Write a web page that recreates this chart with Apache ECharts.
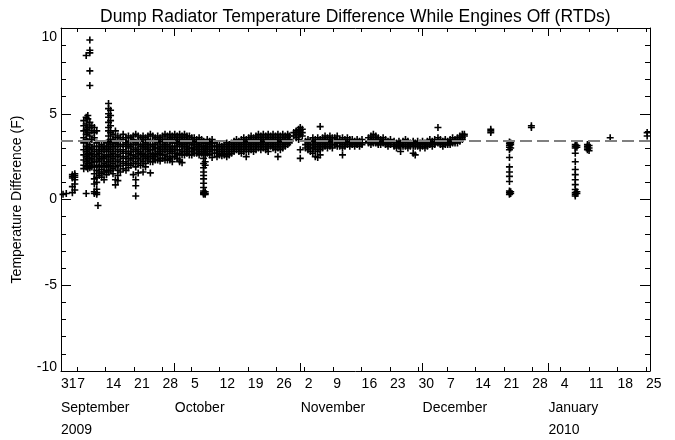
<!DOCTYPE html>
<html lang="en">
<head>
<meta charset="UTF-8">
<title>Dump Radiator Temperature Difference</title>
<script src="https://cdn.jsdelivr.net/npm/echarts@6/dist/echarts.min.js"></script>
</head>
<body style="margin:0">
<div id="main" style="width:675px;height:440px;"></div>
<script type="text/javascript">
// x = days counted from 31 Aug 2009 (Sep 1 = 1, Oct 1 = 31, Nov 1 = 62, Dec 1 = 92, Jan 1 = 123)
// each row: [day, value, value, ...]
var sepRows = [
    [3.5, 0.3],
    [4.3, 0.35],
    [5.8, 1.45, 1.35, 1.25, 0.75, 0.4],
    [6.4, 1.5, 1.4, 1.3, 1.15, 0.9, 0.55],
    [8.6, 4.6, 4.3, 4.0, 3.6, 3.3, 2.9, 2.6, 2.3, 2.0, 1.8],
    [9.2, 8.4, 4.8, 4.4, 4.1, 3.8, 3.5, 3.1, 2.8, 2.5, 2.2, 1.9, 0.35],
    [9.6, 4.9, 4.7, 4.2, 3.9, 3.4, 3.0, 2.7, 2.4, 2.1, 1.8],
    [10.1, 9.3, 8.7, 8.55, 7.5, 6.65, 4.5, 4.2, 3.7, 3.2, 2.9, 2.6, 2.3, 2.0, 1.85],
    [10.6, 4.3, 4.0, 3.5, 3.0, 2.7, 2.4, 2.15, 1.9],
    [11.2, 4.2, 3.9, 3.6, 3.1, 2.8, 2.5, 2.2, 1.9, 1.5, 1.2, 0.9, 0.45, 0.35],
    [11.8, 4.0, 3.3, 2.9, 2.6, 2.3, 2.0, 1.7, 1.3, 1.0, 0.6, 0.4, 0.3],
    [12.1, -0.35],
    [12.4, 3.1, 2.9, 2.7, 2.4, 2.2, 1.9, 1.6, 1.4],
    [13.0, 3.2, 3.0, 2.8, 2.5, 2.3, 2.0, 1.75, 1.5, 1.3],
    [13.6, 3.1, 2.9, 2.6, 2.4, 2.1, 1.9, 1.6, 1.15],
    [14.2, 3.3, 3.0, 2.8, 2.5, 2.2, 2.0, 1.7, 1.45],
    [14.7, 5.6, 5.3, 5.0, 4.8, 4.5, 4.2, 4.0, 3.7, 3.4, 3.1, 2.8, 2.5, 2.2, 1.9, 1.6],
    [15.2, 5.2, 4.9, 4.6, 4.3, 3.9, 3.5, 3.2, 2.9, 2.6, 2.3, 2.0, 1.7],
    [15.8, 3.8, 3.5, 3.3, 3.0, 2.7, 2.4, 2.1, 1.8, 1.5],
    [16.4, 4.0, 3.6, 3.3, 3.1, 2.8, 2.5, 2.2, 1.9, 1.15, 0.85],
    [17.0, 3.7, 3.4, 3.2, 2.9, 2.6, 2.3, 2.0, 1.7, 1.4, 1.1],
    [17.6, 3.6, 3.4, 3.1, 2.8, 2.5, 2.2, 1.95, 1.6],
    [18.3, 3.8, 3.5, 3.2, 2.9, 2.7, 2.4, 2.1, 1.8],
    [19.0, 3.6, 3.3, 3.1, 2.8, 2.5, 2.2, 2.0, 1.7],
    [19.6, 3.7, 3.4, 3.2, 3.0, 2.7, 2.4, 2.1, 1.85],
    [20.2, 3.6, 3.4, 3.1, 2.8, 2.6, 2.3, 2.0],
    [20.8, 3.7, 3.5, 3.2, 2.9, 2.6, 2.4, 2.1, 1.45],
    [21.4, 3.8, 3.3, 3.0, 2.8, 2.5, 2.2, 1.9, 1.15, 0.8, 0.2],
    [22.0, 3.7, 3.4, 3.2, 2.9, 2.7, 2.4, 2.1, 1.55],
    [22.6, 3.6, 3.4, 3.1, 2.8, 2.6, 2.3, 2.0],
    [23.2, 3.7, 3.5, 3.2, 3.0, 2.7, 2.5, 2.2, 1.6],
    [23.8, 3.6, 3.3, 3.1, 2.9, 2.6, 2.4, 2.1, 1.9],
    [24.4, 3.7, 3.5, 3.2, 3.0, 2.8, 2.5, 2.3],
    [25.0, 3.8, 3.4, 3.2, 2.9, 2.7, 2.5, 2.2, 1.55],
    [25.6, 3.7, 3.4, 3.1, 2.9, 2.6, 2.4, 2.2],
    [26.2, 3.6, 3.4, 3.2, 3.0, 2.7, 2.5, 2.3],
    [26.8, 3.7, 3.5, 3.3, 3.0, 2.8, 2.6, 2.3],
    [27.4, 3.6, 3.4, 3.1, 2.9, 2.7, 2.4, 2.25],
    [28.0, 3.7, 3.5, 3.2, 3.0, 2.8, 2.6, 2.4],
    [28.6, 3.8, 3.5, 3.3, 3.1, 2.9, 2.6, 2.3],
    [29.2, 3.7, 3.5, 3.2, 3.0, 2.8, 2.5, 2.3],
    [29.8, 3.8, 3.6, 3.4, 3.1, 2.9, 2.7, 2.4, 2.3]
];
var octRows = [
    [30.4, 3.7, 3.5, 3.3, 3.0, 2.8, 2.5, 2.2],
    [31.0, 3.8, 3.6, 3.3, 3.1, 2.9, 2.7, 2.5],
    [31.6, 3.7, 3.5, 3.3, 3.1, 2.9, 2.6, 2.4],
    [32.2, 3.8, 3.6, 3.4, 3.2, 2.9, 2.7, 2.3, 2.2],
    [32.8, 3.7, 3.5, 3.3, 3.1, 2.8, 2.6, 2.15],
    [33.4, 3.8, 3.6, 3.4, 3.2, 3.0, 2.8, 2.6],
    [34.0, 3.7, 3.5, 3.3, 3.1, 2.9, 2.7],
    [34.6, 3.7, 3.5, 3.3, 3.0, 2.8, 2.6],
    [35.2, 3.6, 3.4, 3.2, 3.0, 2.8, 2.6],
    [35.8, 3.6, 3.4, 3.2, 3.0, 2.9, 2.7],
    [36.4, 3.5, 3.3, 3.1, 2.9, 2.7],
    [37.0, 3.6, 3.4, 3.2, 3.0, 2.8, 2.6],
    [37.6, 3.5, 3.3, 3.1, 2.9, 2.7],
    [38.1, 3.4, 3.1, 2.7, 2.4, 2.1, 1.85, 1.6, 1.4, 1.2, 0.95, 0.7, 0.5, 0.4, 0.35, 0.3],
    [38.5, 3.3, 3.0, 2.8, 2.6, 2.2, 2.0, 0.45, 0.35, 0.3],
    [39.0, 3.5, 3.3, 3.1, 2.9, 2.7],
    [39.6, 3.4, 3.2, 3.0, 2.8, 2.6],
    [40.2, 3.5, 3.3, 3.1, 2.9, 2.45],
    [40.8, 3.3, 3.1, 2.9, 2.7],
    [41.4, 3.1, 2.9, 2.7, 2.5],
    [42.0, 3.2, 3.0, 2.8, 2.6],
    [42.6, 3.1, 2.9, 2.7, 2.55],
    [43.2, 3.2, 3.0, 2.8, 2.6],
    [43.8, 3.3, 3.1, 2.9, 2.7, 2.5],
    [44.4, 3.2, 3.0, 2.8, 2.6],
    [45.0, 3.3, 3.1, 2.9, 2.7],
    [45.6, 3.4, 3.2, 3.0, 2.8],
    [46.2, 3.5, 3.3, 3.1, 2.9],
    [46.8, 3.4, 3.2, 3.0, 2.8],
    [47.4, 3.5, 3.3, 3.1, 2.9, 2.7],
    [48.0, 3.6, 3.4, 3.2, 3.0, 2.8],
    [48.6, 3.5, 3.3, 3.1, 2.9, 2.5],
    [49.2, 3.6, 3.4, 3.2, 3.0, 2.8],
    [49.8, 3.7, 3.5, 3.3, 3.1, 2.9],
    [50.4, 3.6, 3.4, 3.2, 3.0, 2.8],
    [51.0, 3.7, 3.5, 3.3, 3.1, 2.9],
    [51.6, 3.8, 3.6, 3.4, 3.2, 3.0],
    [52.2, 3.7, 3.5, 3.3, 3.1, 2.9],
    [52.8, 3.8, 3.6, 3.4, 3.2, 3.0],
    [53.4, 3.7, 3.5, 3.3, 3.1, 2.9],
    [54.0, 3.8, 3.6, 3.4, 3.2, 3.0, 2.8],
    [54.6, 3.7, 3.5, 3.3, 3.1],
    [55.2, 3.8, 3.6, 3.4, 3.2, 3.0],
    [55.8, 3.7, 3.5, 3.3, 3.1, 2.9],
    [56.4, 3.8, 3.6, 3.4, 3.2, 3.0, 2.5],
    [57.0, 3.7, 3.5, 3.3, 3.1, 2.9],
    [57.6, 3.8, 3.6, 3.4, 3.2, 3.0],
    [58.2, 3.7, 3.5, 3.3, 3.1],
    [58.8, 3.8, 3.6, 3.4, 3.2],
    [59.2, 3.7, 3.5, 3.3],
    [60.3, 3.7, 3.9],
    [60.9, 4.0, 3.8, 3.6],
    [61.5, 4.1, 3.9, 3.7, 3.5]
];
var novRows = [
    [61.9, 4.2, 4.0, 3.8, 2.9, 2.4],
    [62.4, 4.1, 3.9, 3.7],
    [63.2, 3.4, 3.2, 3.0],
    [63.8, 3.5, 3.3, 3.1, 2.9],
    [64.4, 3.4, 3.2, 3.0, 2.8],
    [65.0, 3.6, 3.4, 3.2, 3.0, 2.7],
    [65.6, 3.5, 3.3, 3.1, 2.9, 2.5],
    [66.2, 3.6, 3.4, 3.2, 3.0, 2.8, 2.45],
    [66.8, 4.25, 3.5, 3.3, 3.1, 2.9, 2.6],
    [67.4, 3.6, 3.4, 3.2, 3.0],
    [68.0, 3.7, 3.5, 3.3, 3.1],
    [68.6, 3.6, 3.4, 3.2, 3.0],
    [69.2, 3.7, 3.5, 3.3, 3.1],
    [69.8, 3.6, 3.4, 3.2, 3.0],
    [70.4, 3.6, 3.4, 3.2],
    [71.0, 3.7, 3.5, 3.3, 3.1],
    [71.6, 3.5, 3.3, 3.1],
    [72.3, 3.6, 3.4, 3.2, 3.0, 2.6],
    [72.9, 3.5, 3.3, 3.1],
    [73.5, 3.6, 3.4, 3.2],
    [74.1, 3.5, 3.3, 3.1],
    [74.7, 3.5, 3.3, 3.2],
    [75.3, 3.4, 3.3, 3.1],
    [75.9, 3.5, 3.3, 3.2],
    [76.5, 3.4, 3.3, 3.1],
    [77.1, 3.5, 3.3, 3.2],
    [78.7, 3.6, 3.4, 3.3],
    [79.3, 3.7, 3.5, 3.4, 3.2],
    [79.9, 3.8, 3.6, 3.4, 3.3],
    [80.5, 3.7, 3.5, 3.3],
    [81.1, 3.6, 3.5, 3.3, 3.2],
    [81.7, 3.5, 3.4, 3.2],
    [82.3, 3.6, 3.4, 3.3],
    [82.9, 3.5, 3.3, 3.2],
    [83.5, 3.4, 3.3, 3.1],
    [84.1, 3.5, 3.3, 3.2],
    [85.0, 3.4, 3.2, 3.1],
    [85.6, 3.3, 3.2, 3.0],
    [86.2, 3.4, 3.2, 3.1],
    [86.6, 3.3, 3.1, 2.8],
    [87.2, 3.4, 3.2, 3.1],
    [87.8, 3.5, 3.3, 3.1],
    [88.4, 3.4, 3.2, 3.0],
    [89.0, 3.3, 3.2, 3.1],
    [89.7, 3.4, 3.3, 3.1, 2.7],
    [90.2, 3.3, 3.1, 2.6],
    [90.8, 3.4, 3.2, 3.1],
    [91.4, 3.3, 3.2, 3.0]
];
var decRows = [
    [92.0, 3.4, 3.3, 3.1],
    [92.6, 3.3, 3.2, 3.0],
    [93.2, 3.4, 3.2, 3.1],
    [93.8, 3.5, 3.3, 3.2],
    [94.4, 3.4, 3.3, 3.1],
    [95.0, 3.5, 3.3, 3.2],
    [95.8, 4.2, 3.6, 3.4, 3.3],
    [96.4, 3.5, 3.3, 3.2],
    [97.0, 3.4, 3.3, 3.1],
    [97.6, 3.5, 3.4, 3.2],
    [98.2, 3.4, 3.3, 3.2],
    [98.8, 3.5, 3.3, 3.2],
    [99.4, 3.6, 3.4, 3.3],
    [100.0, 3.5, 3.4, 3.3],
    [100.6, 3.6, 3.5, 3.3],
    [101.2, 3.7, 3.5, 3.4],
    [101.8, 3.8, 3.6, 3.5],
    [102.3, 3.8, 3.7],
    [108.8, 4.1, 4.0, 3.9],
    [113.4, 3.35, 3.25, 3.15, 3.05, 2.9, 2.45, 1.9, 1.6, 1.35, 1.05, 0.5, 0.4, 0.3],
    [113.7, 3.3, 3.2, 3.0, 0.45, 0.35],
    [118.8, 4.3, 4.2]
];
var janRows = [
    [129.6, 3.2, 3.1, 3.0, 2.7, 2.2, 1.75, 1.45, 1.15, 0.87, 0.58, 0.4, 0.3, 0.2],
    [130.0, 3.15, 3.05, 0.45, 0.35],
    [132.6, 3.2, 3.1, 3.0, 2.9],
    [133.0, 3.15, 3.0, 2.85],
    [138.2, 3.6],
    [147.3, 3.9, 3.7]
];

var meanLevel = 3.45;

var weekTicks = [7, 14, 21, 28, 35, 42, 49, 56, 63, 70, 77, 84, 91, 98, 105, 112, 119, 126, 133, 140, 147];
var monthTicks = [31, 62, 92, 123];
var dayLabelPos = [3, 7, 14, 21, 28, 35, 42, 49, 56, 63, 70, 77, 84, 91, 98, 105, 112, 119, 126, 133, 140, 147];
var dayLabels = ['31', '7', '14', '21', '28', '5', '12', '19', '26', '2', '9', '16', '23', '30', '7', '14', '21', '28', '4', '11', '18', '25'];
var monthLabelPos = [3, 31, 62, 92, 123];
var monthLabels = ['September', 'October', 'November', 'December', 'January'];
var yearLabelPos = [3, 123];
var yearLabels = ['2009', '2010'];

var points = [];
sepRows.concat(octRows, novRows, decRows, janRows).forEach(function (row) {
    for (var i = 1; i < row.length; i++) {
        points.push([row[0], row[i]]);
    }
});

var font = 'Liberation Sans, Arial, sans-serif';
var plus = 'path://M2.7,0H4.3V2.7H7V4.3H4.3V7H2.7V4.3H0V2.7H2.7Z';

function lookup(pos, labels) {
    return function (v) {
        var i = pos.indexOf(v);
        return i < 0 ? '' : labels[i];
    };
}

function xAxis(position, extra) {
    var a = {
        type: 'value', min: 3, max: 148, position: position, offset: 0,
        splitLine: {show: false},
        axisLine: {show: false, onZero: false},
        axisTick: {show: false},
        axisLabel: {show: false}
    };
    for (var k in extra) a[k] = extra[k];
    return a;
}

var frameLine = {show: true, onZero: false, lineStyle: {color: '#000', width: 1}};

var myChart = echarts.init(document.getElementById('main'));

var option = {
    animation: false,
    backgroundColor: '#fff',
    title: {
        text: 'Dump Radiator Temperature Difference While Engines Off (RTDs)',
        left: 95,
        top: 3,
        textStyle: {fontFamily: font, fontSize: 17.5, fontWeight: 'normal', color: '#000'}
    },
    grid: {left: 61, right: 25, top: 28, bottom: 69},
    xAxis: [
        xAxis('bottom', {
            axisLine: frameLine,
            axisTick: {show: true, inside: true, length: 4, customValues: weekTicks, lineStyle: {color: '#000'}},
            axisLabel: {show: true, customValues: dayLabelPos, formatter: lookup(dayLabelPos, dayLabels),
                align: 'left', margin: 6, fontFamily: font, fontSize: 14, color: '#000'}
        }),
        xAxis('bottom', {
            axisTick: {show: true, inside: true, length: 8, customValues: monthTicks, lineStyle: {color: '#000'}},
            axisLabel: {show: true, customValues: monthLabelPos, formatter: lookup(monthLabelPos, monthLabels),
                align: 'left', margin: 30, fontFamily: font, fontSize: 14, color: '#000'}
        }),
        xAxis('bottom', {
            axisLabel: {show: true, customValues: yearLabelPos, formatter: lookup(yearLabelPos, yearLabels),
                align: 'left', margin: 52, fontFamily: font, fontSize: 14, color: '#000'}
        }),
        xAxis('top', {
            axisLine: frameLine,
            axisTick: {show: true, inside: true, length: 4, customValues: weekTicks, lineStyle: {color: '#000'}}
        }),
        xAxis('top', {
            axisTick: {show: true, inside: true, length: 8, customValues: monthTicks, lineStyle: {color: '#000'}}
        })
    ],
    yAxis: [{
        type: 'value', min: -10, max: 10, interval: 5, position: 'left',
        name: 'Temperature Difference (F)',
        nameLocation: 'middle',
        nameGap: 37,
        nameTextStyle: {fontFamily: font, fontSize: 14, color: '#000'},
        splitLine: {show: false},
        axisLine: frameLine,
        axisTick: {inside: true, length: 10, lineStyle: {color: '#000'}},
        minorTick: {show: true, splitNumber: 5, length: 5, lineStyle: {color: '#000'}},
        axisLabel: {
            margin: 4, fontFamily: font, fontSize: 14, color: '#000',
            formatter: function (v) {
                if (v === 10) return '{top|10}';
                if (v === -10) return '{bot|-10}';
                return String(v);
            },
            rich: {
                top: {padding: [18, 0, 0, 0], fontFamily: font, fontSize: 14, color: '#000'},
                bot: {padding: [0, 0, 8, 0], fontFamily: font, fontSize: 14, color: '#000'}
            }
        }
    }, {
        type: 'value', min: -10, max: 10, interval: 5, position: 'right',
        splitLine: {show: false},
        axisLine: frameLine,
        axisTick: {inside: true, length: 10, lineStyle: {color: '#000'}},
        minorTick: {show: true, splitNumber: 5, length: 5, lineStyle: {color: '#000'}},
        axisLabel: {show: false}
    }],
    series: [{
        type: 'scatter',
        xAxisIndex: 0,
        yAxisIndex: 0,
        symbol: plus,
        symbolSize: 7,
        itemStyle: {color: '#000', opacity: 1},
        data: points,
        markLine: {
            silent: true,
            symbol: ['none', 'none'],
            label: {show: false},
            lineStyle: {type: [12, 5], color: '#808080', width: 2},
            data: [{yAxis: meanLevel}]
        }
    }]
};

myChart.setOption(option);
</script>
</body>
</html>
